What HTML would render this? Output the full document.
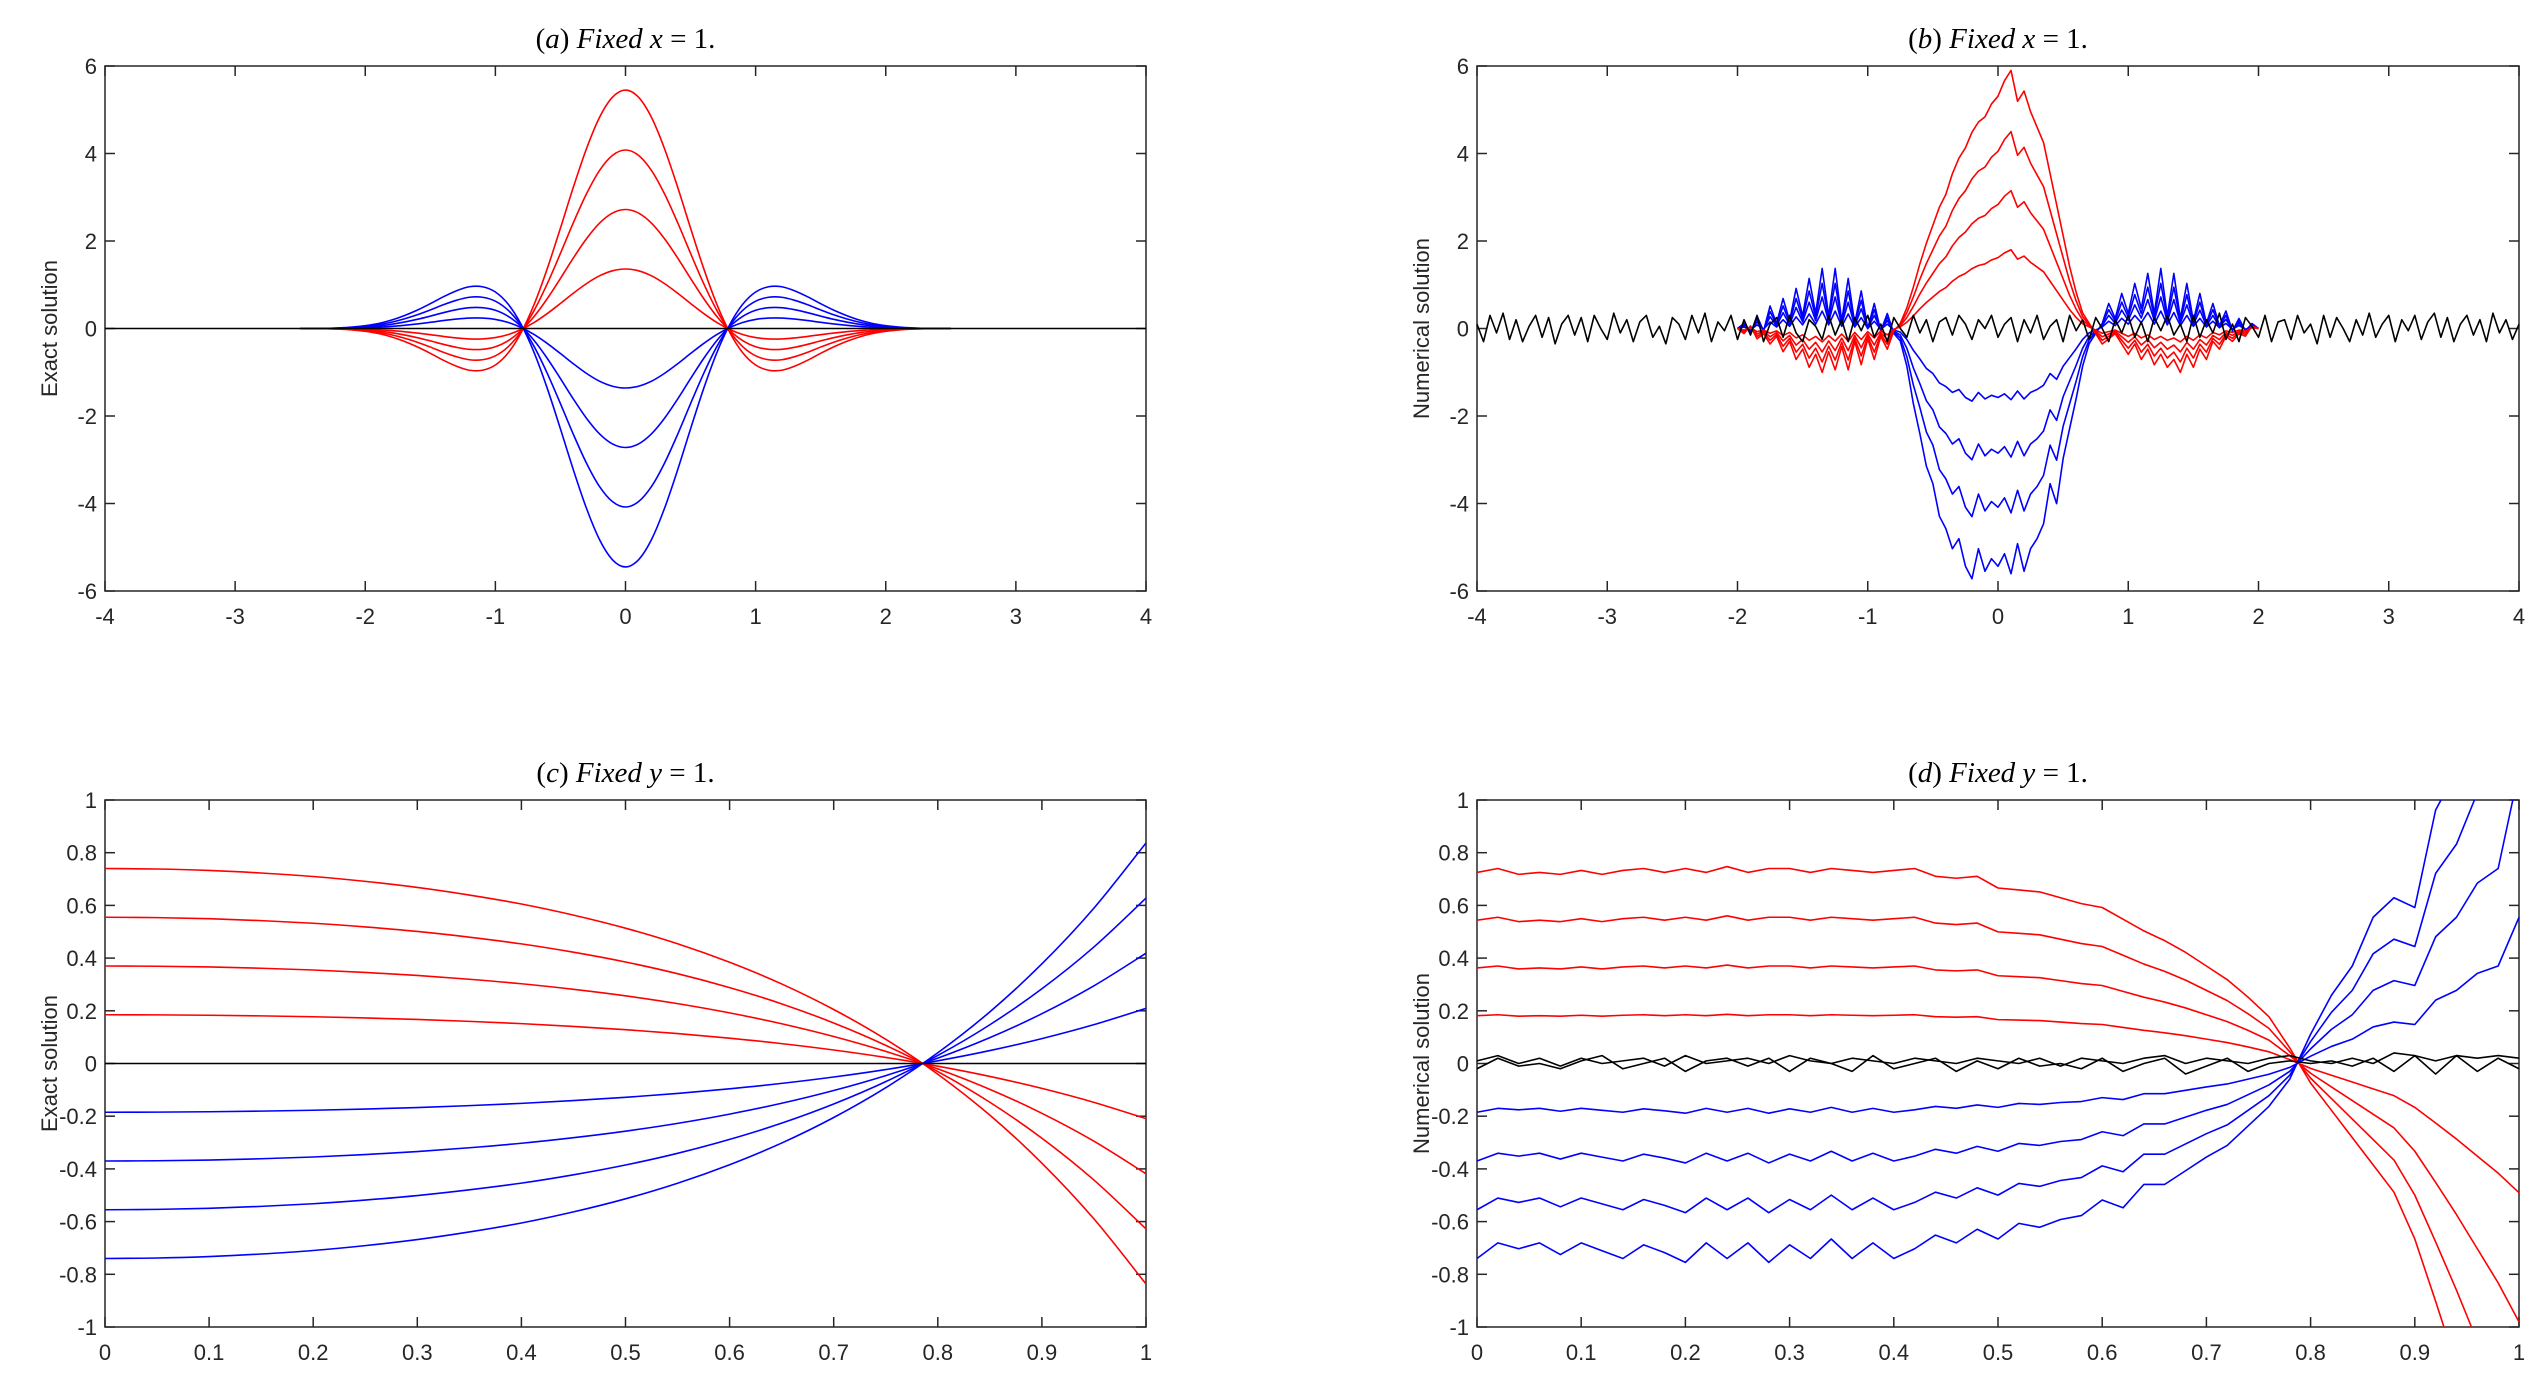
<!DOCTYPE html>
<html>
<head>
<meta charset="utf-8">
<style>
  html,body{margin:0;padding:0;background:#fff;width:2545px;height:1394px;overflow:hidden;}
  svg{display:block;position:absolute;left:0;top:0;}
  .tick{font-family:"Liberation Sans",sans-serif;font-size:22px;fill:#262626;}
  .ylab{font-family:"Liberation Sans",sans-serif;font-size:22px;fill:#262626;}
  .ttl{font-family:"Liberation Serif",serif;font-size:29px;fill:#000;}
</style>
</head>
<body>
<svg id="fig" width="2545" height="1394" viewBox="0 0 2545 1394" xmlns="http://www.w3.org/2000/svg"></svg>
<script>
// ---------- Panel (a): exact solution, fixed x=1 ----------
const aXStart = -2.5, aXStep = 0.1;
const aProfile = [0,0,-0.0006,-0.0024,-0.006,-0.012,-0.021,-0.035,-0.054,-0.077,-0.104,-0.133,-0.158,-0.175,-0.175,-0.153,-0.101,-0.015,0.104,0.253,0.421,0.594,0.754,0.885,0.970,
  1,
  0.970,0.885,0.754,0.594,0.421,0.253,0.104,-0.015,-0.101,-0.153,-0.175,-0.175,-0.158,-0.133,-0.104,-0.077,-0.054,-0.035,-0.021,-0.012,-0.006,-0.0024,-0.0006,0,0];
const aRedAmps = [5.45, 4.08, 2.72, 1.36];
const aBlueAmps = [-1.36, -2.72, -4.08, -5.45];

// ---------- Panel (b): numerical solution, fixed x=1 ----------
const bXStart = -2.0, bXStep = 0.05;
const bRedUnit = [0,-0.02,0.01,-0.04,-0.02,-0.06,-0.03,-0.09,-0.05,-0.12,-0.08,-0.15,-0.10,-0.17,-0.09,-0.16,-0.07,-0.16,-0.05,-0.14,-0.04,-0.12,-0.03,-0.08,-0.01,
  0.02,0.08,0.16,0.25,0.33,0.40,0.47,0.52,0.60,0.66,0.70,0.76,0.80,0.82,0.87,0.90,0.96,1.0,0.88,0.92,0.84,0.78,0.72,0.60,0.48,0.36,0.24,0.14,0.06,0.02,
  -0.02,-0.06,-0.04,-0.02,-0.06,-0.10,-0.06,-0.12,-0.08,-0.14,-0.10,-0.15,-0.12,-0.17,-0.10,-0.15,-0.08,-0.12,-0.05,-0.08,-0.03,-0.05,-0.02,-0.03,0.01,0];
const bBlueUnit = [0,-0.02,0.02,-0.05,0.01,-0.09,-0.02,-0.12,-0.03,-0.16,-0.05,-0.20,-0.06,-0.24,-0.05,-0.24,-0.03,-0.20,-0.02,-0.15,0.0,-0.10,0.01,-0.06,0.02,
  0.05,0.15,0.30,0.42,0.55,0.62,0.75,0.80,0.88,0.84,0.95,1.0,0.88,0.97,0.92,0.95,0.90,0.98,0.86,0.97,0.88,0.84,0.78,0.62,0.70,0.52,0.40,0.28,0.15,0.06,
  0.02,-0.02,-0.10,-0.04,-0.14,-0.06,-0.18,-0.08,-0.22,-0.06,-0.24,-0.05,-0.22,-0.04,-0.18,-0.03,-0.14,-0.02,-0.10,-0.01,-0.07,0.01,-0.04,0.01,-0.02,0];
const bRedAmps = [5.9, 4.5, 3.15, 1.8];
const bBlueAmps = [-1.66, -3.0, -4.3, -5.72];
const bBlackXStart = -4.0, bBlackXStep = 0.05;
const bBlack = [0.1,-0.3,0.3,-0.1,0.35,-0.25,0.2,-0.3,0.05,0.3,-0.2,0.25,-0.35,0.1,0.3,-0.15,0.25,-0.3,0.3,0.0,
  -0.25,0.35,-0.1,0.2,-0.3,0.15,0.3,-0.2,0.05,-0.35,0.25,0.1,-0.25,0.3,-0.1,0.35,-0.3,0.15,-0.05,0.3,
  -0.25,0.2,-0.15,0.3,-0.3,0.1,0.25,-0.2,0.3,-0.1,-0.3,0.2,0.05,-0.25,0.3,-0.15,0.2,-0.3,0.25,-0.05,
  0.3,-0.2,0.1,-0.3,0.25,0.0,-0.2,0.3,-0.1,0.2,-0.3,0.15,0.25,-0.15,0.3,0.1,-0.25,0.2,0.0,0.3,
  -0.2,0.1,0.25,-0.3,0.2,-0.1,0.3,-0.25,0.05,0.2,-0.3,0.3,-0.05,0.2,-0.25,0.25,0.0,-0.3,0.2,-0.1,
  0.3,-0.2,0.15,-0.3,0.25,-0.05,0.3,-0.15,0.1,-0.3,0.3,-0.2,0.2,-0.1,0.35,-0.25,0.1,-0.3,0.25,0.05,
  -0.2,0.3,-0.3,0.15,0.2,-0.25,0.3,-0.1,0.1,-0.35,0.3,-0.2,0.25,0.0,-0.3,0.2,-0.15,0.35,-0.2,0.1,
  0.3,-0.3,0.2,-0.05,0.3,-0.25,0.15,0.35,-0.2,0.25,-0.3,0.1,0.3,-0.15,0.2,-0.3,0.35,-0.1,0.2,-0.25,0.1];

// ---------- Panel (c): exact solution, fixed y=1 ----------
const cXStart = 0.0, cXStep = 0.05;
const cProfile = [1,0.9975,0.990,0.977,0.959,0.934,0.903,0.864,0.818,0.761,0.694,0.614,0.519,0.408,0.277,0.124,-0.055,-0.265,-0.511,-0.797,-1.131];
const cAmps = [0.74, 0.555, 0.37, 0.185, -0.185, -0.37, -0.555, -0.74];
const cColors = ['#ff0000','#ff0000','#ff0000','#ff0000','#0000ff','#0000ff','#0000ff','#0000ff'];

// ---------- Panel (d): numerical solution, fixed y=1 ----------
const dXStart = 0.0, dXStep = 0.02;
const dRedUnit = [0.98,1.0,0.97,0.98,0.97,0.99,0.97,0.99,1.0,0.98,1.0,0.98,1.01,0.98,1.0,1.0,0.98,1.0,0.99,0.98,0.99,1.0,0.96,0.95,0.96,0.90,0.89,0.88,0.85,0.82,0.80,0.74,0.68,0.63,0.57,0.50,0.43,0.34,0.24,0.08,-0.10,-0.24,-0.38,-0.52,-0.66,-0.90,-1.22,-1.55,-1.90,-2.25,-2.65];
const dBlueUnit = [1.0,0.92,0.95,0.92,0.98,0.92,0.96,1.0,0.93,0.97,1.02,0.92,1.0,0.92,1.02,0.93,1.0,0.90,1.0,0.92,1.0,0.95,0.88,0.92,0.85,0.90,0.82,0.84,0.80,0.78,0.70,0.74,0.62,0.62,0.55,0.48,0.42,0.32,0.22,0.08,-0.15,-0.35,-0.50,-0.75,-0.85,-0.80,-1.30,-1.50,-1.85,-2.0,-3.0];
const dRedAmps = [0.74, 0.555, 0.37, 0.185];
const dBlueAmps = [-0.185, -0.37, -0.555, -0.74];
const dBlack1 = [0.01,0.03,0.0,0.02,-0.01,0.02,0.0,0.01,0.02,-0.01,0.03,0.0,0.01,0.02,0.0,0.03,0.01,0.0,0.02,0.01,0.0,0.02,0.01,0.0,0.02,0.01,0.0,0.02,-0.01,0.02,0.01,0.0,0.02,0.03,0.0,0.02,0.01,0.0,0.02,0.03,0.01,0.0,0.02,0.0,0.04,0.03,0.01,0.03,0.02,0.03,0.02];
const dBlack2 = [-0.02,0.02,-0.01,0.0,-0.02,0.01,0.03,-0.02,0.0,0.02,-0.03,0.01,0.02,-0.01,0.02,-0.03,0.02,0.0,-0.03,0.03,-0.02,0.0,0.02,-0.03,0.01,-0.02,0.02,-0.01,0.0,-0.02,0.02,-0.03,0.0,0.02,-0.04,-0.01,0.02,-0.03,0.0,0.01,0.0,0.01,-0.01,0.02,-0.03,0.03,-0.04,0.03,-0.03,0.02,-0.02];

// ---------- Tick label arrays ----------
const abXTicks = [-4,-3,-2,-1,0,1,2,3,4];
const abYTicks = [-6,-4,-2,0,2,4,6];
const cdXTicks = [0,0.1,0.2,0.3,0.4,0.5,0.6,0.7,0.8,0.9,1];
const cdYTicks = [-1,-0.8,-0.6,-0.4,-0.2,0,0.2,0.4,0.6,0.8,1];

const NS = 'http://www.w3.org/2000/svg';
const svg = document.getElementById('fig');

function mk(tag, attrs, parent){
  const e = document.createElementNS(NS, tag);
  for (const k in attrs) e.setAttribute(k, attrs[k]);
  (parent||svg).appendChild(e);
  return e;
}

function makeAxes(id, L, R, T, B, xmin, xmax, ymin, ymax){
  return {
    id, L, R, T, B,
    sx: v => L + (v - xmin) / (xmax - xmin) * (R - L),
    sy: v => B - (v - ymin) / (ymax - ymin) * (B - T)
  };
}

function drawFrame(ax, xt, yt, ylabel, title, tname){
  const g = mk('g', {});
  
  
  const frame = mk('rect', {x: ax.L, y: ax.T, width: ax.R - ax.L, height: ax.B - ax.T, fill: 'none', stroke: '#262626', 'stroke-width': 1.5}, g);
  
  
  xt.forEach(v => {
    const x = ax.sx(v);
    mk('line', {x1: x, y1: ax.B, x2: x, y2: ax.B - 10, stroke: '#262626', 'stroke-width': 1.5}, g);
    mk('line', {x1: x, y1: ax.T, x2: x, y2: ax.T + 10, stroke: '#262626', 'stroke-width': 1.5}, g);
    const t = mk('text', {x: x, y: ax.B + 33, 'text-anchor': 'middle', class: 'tick'}, g);
    t.textContent = String(v);
    
    
  });
  yt.forEach(v => {
    const y = ax.sy(v);
    mk('line', {x1: ax.L, y1: y, x2: ax.L + 10, y2: y, stroke: '#262626', 'stroke-width': 1.5}, g);
    mk('line', {x1: ax.R, y1: y, x2: ax.R - 10, y2: y, stroke: '#262626', 'stroke-width': 1.5}, g);
    const t = mk('text', {x: ax.L - 8, y: y + 8, 'text-anchor': 'end', class: 'tick'}, g);
    t.textContent = String(v);
    
    
  });
  const cy = (ax.T + ax.B) / 2;
  const yl = mk('text', {x: ax.L - 48, y: cy, 'text-anchor': 'middle', class: 'ylab', transform: 'rotate(-90 ' + (ax.L - 48) + ' ' + cy + ')'}, g);
  yl.textContent = ylabel;
  
  
  const tt = mk('text', {x: (ax.L + ax.R) / 2, y: ax.T - 18, 'text-anchor': 'middle', class: 'ttl'}, g);
  
  
  const s1 = mk('tspan', {}, tt); s1.textContent = '(' ;
  const s2 = mk('tspan', {'font-style': 'italic'}, tt); s2.textContent = title[0];
  const s3 = mk('tspan', {}, tt); s3.textContent = ')  ';
  const s4 = mk('tspan', {'font-style': 'italic'}, tt); s4.textContent = 'Fixed  ' + title[1];
  const s5 = mk('tspan', {}, tt); s5.textContent = ' = 1.';
  return g;
}

function smoothPath(pts){
  let d = 'M' + pts[0][0].toFixed(2) + ',' + pts[0][1].toFixed(2);
  for (let i = 0; i < pts.length - 1; i++){
    const p0 = pts[Math.max(0, i - 1)], p1 = pts[i], p2 = pts[i + 1], p3 = pts[Math.min(pts.length - 1, i + 2)];
    const c1x = p1[0] + (p2[0] - p0[0]) / 6, c1y = p1[1] + (p2[1] - p0[1]) / 6;
    const c2x = p2[0] - (p3[0] - p1[0]) / 6, c2y = p2[1] - (p3[1] - p1[1]) / 6;
    d += ' C' + c1x.toFixed(2) + ',' + c1y.toFixed(2) + ' ' + c2x.toFixed(2) + ',' + c2y.toFixed(2) + ' ' + p2[0].toFixed(2) + ',' + p2[1].toFixed(2);
  }
  return d;
}
// Polyline clipped in y to [T,B]: segments leaving the box are cut at the boundary.
function clippedPolyPath(pts, T, B){
  let d = '', pen = false;
  const f = p => p[0].toFixed(2) + ',' + p[1].toFixed(2);
  for (let i = 0; i < pts.length - 1; i++){
    let [x1, y1] = pts[i], [x2, y2] = pts[i + 1];
    let t0 = 0, t1 = 1;
    const dy = y2 - y1;
    if (dy === 0){ if (y1 < T || y1 > B){ pen = false; continue; } }
    else {
      const ta = (T - y1) / dy, tb = (B - y1) / dy;
      t0 = Math.max(t0, Math.min(ta, tb));
      t1 = Math.min(t1, Math.max(ta, tb));
      if (t0 > t1){ pen = false; continue; }
    }
    const a = [x1 + (x2 - x1) * t0, y1 + dy * t0];
    const b = [x1 + (x2 - x1) * t1, y1 + dy * t1];
    if (!pen || t0 > 0) d += ' M' + f(a);
    d += ' L' + f(b);
    pen = t1 >= 1;
  }
  return d.trim();
}
function drawCurve(ax, parent, xs, ys, color, smooth, name){
  const pts = xs.map((x, i) => [ax.sx(x), ax.sy(ys[i])]);
  const p = mk('path', {d: smooth ? smoothPath(pts) : clippedPolyPath(pts, ax.T, ax.B), fill: 'none', stroke: color, 'stroke-width': 1.6, 'stroke-linejoin': 'round'}, parent);
  
  
  return p;
}
function xsFrom(start, step, n){ const a = []; for (let i = 0; i < n; i++) a.push(+(start + step * i).toFixed(6)); return a; }

// Axes
const axA = makeAxes('panel-a', 105, 1146, 66, 591, -4, 4, -6, 6);
const axB = makeAxes('panel-b', 1477, 2519, 66, 591, -4, 4, -6, 6);
const axC = makeAxes('panel-c', 105, 1146, 800, 1327, 0, 1, -1, 1);
const axD = makeAxes('panel-d', 1477, 2519, 800, 1327, 0, 1, -1, 1);

// Panel A
const gA = drawFrame(axA, abXTicks, abYTicks, 'Exact solution', ['a', 'x'], 'title-a');
const aXs = xsFrom(aXStart, aXStep, aProfile.length);
aRedAmps.forEach(A => drawCurve(axA, gA, aXs, aProfile.map(v => A * v), '#ff0000', true, 'exact-red-curve'));
aBlueAmps.forEach(A => drawCurve(axA, gA, aXs, aProfile.map(v => A * v), '#0000ff', true, 'exact-blue-curve'));
drawCurve(axA, gA, [-4, 4], [0, 0], '#000000', false, 'zero-line');

// Panel B
const gB = drawFrame(axB, abXTicks, abYTicks, 'Numerical solution', ['b', 'x'], 'title-b');
const bXs = xsFrom(bXStart, bXStep, bRedUnit.length);
bBlueAmps.forEach(A => drawCurve(axB, gB, bXs, bBlueUnit.map(v => A * v), '#0000ff', false, 'numerical-blue-curve'));
bRedAmps.forEach(A => drawCurve(axB, gB, bXs, bRedUnit.map(v => A * v), '#ff0000', false, 'numerical-red-curve'));
drawCurve(axB, gB, xsFrom(bBlackXStart, bBlackXStep, bBlack.length), bBlack, '#000000', false, 'numerical-black-curve');

// Panel C
const gC = drawFrame(axC, cdXTicks, cdYTicks, 'Exact solution', ['c', 'y'], 'title-c');
const cXs = xsFrom(cXStart, cXStep, cProfile.length);
cAmps.forEach((A, k) => drawCurve(axC, gC, cXs, cProfile.map(v => A * v), cColors[k], true, 'exact-curve'));
drawCurve(axC, gC, [0, 1], [0, 0], '#000000', false, 'zero-line');

// Panel D
const gD = drawFrame(axD, cdXTicks, cdYTicks, 'Numerical solution', ['d', 'y'], 'title-d');
const dXs = xsFrom(dXStart, dXStep, dRedUnit.length);
dRedAmps.forEach(A => drawCurve(axD, gD, dXs, dRedUnit.map(v => A * v), '#ff0000', false, 'numerical-red-curve'));
dBlueAmps.forEach(A => drawCurve(axD, gD, dXs, dBlueUnit.map(v => A * v), '#0000ff', false, 'numerical-blue-curve'));
drawCurve(axD, gD, dXs, dBlack1, '#000000', false, 'numerical-black-curve');
drawCurve(axD, gD, dXs, dBlack2, '#000000', false, 'numerical-black-curve');
</script>
</body>
</html>
